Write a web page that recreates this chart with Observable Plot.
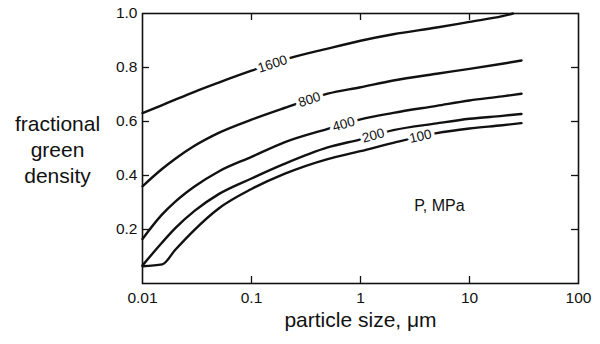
<!DOCTYPE html>
<html>
<head>
<meta charset="utf-8">
<script src="https://cdn.jsdelivr.net/npm/d3@7"></script>
<script src="https://cdn.jsdelivr.net/npm/@observablehq/plot@0.6"></script>
<style>
  html, body { margin: 0; padding: 0; background: #fff; }
  #chart svg { display: block; }
</style>
</head>
<body>
<div id="chart"></div>
<script>
// ---- data ----
const pressures = ["1600", "800", "400", "200", "100"];

const size1600 = [0.01, 0.015, 0.02, 0.03, 0.05, 0.1, 0.2, 0.5, 1, 2, 5, 10, 20, 25];
const dens1600 = [0.631, 0.66, 0.681, 0.71, 0.744, 0.788, 0.829, 0.87, 0.899, 0.923, 0.948, 0.969, 0.99, 1.0];

const size800 = [0.01, 0.015, 0.02, 0.03, 0.05, 0.1, 0.2, 0.5, 1, 2, 5, 10, 20, 30];
const dens800 = [0.36, 0.423, 0.462, 0.51, 0.558, 0.607, 0.65, 0.703, 0.727, 0.752, 0.777, 0.795, 0.814, 0.826];

const size400 = [0.01, 0.015, 0.02, 0.03, 0.05, 0.1, 0.2, 0.5, 1, 2, 5, 10, 20, 30];
const dens400 = [0.165, 0.254, 0.303, 0.359, 0.415, 0.469, 0.523, 0.573, 0.608, 0.632, 0.658, 0.678, 0.693, 0.703];

const size200 = [0.01, 0.015, 0.02, 0.03, 0.05, 0.1, 0.2, 0.5, 1, 2, 5, 10, 20, 30];
const dens200 = [0.067, 0.15, 0.205, 0.269, 0.331, 0.389, 0.443, 0.504, 0.534, 0.568, 0.593, 0.61, 0.621, 0.628];

const size100 = [0.01, 0.0152, 0.02, 0.03, 0.05, 0.1, 0.2, 0.5, 1, 2, 5, 10, 20, 30];
const dens100 = [0.064, 0.071, 0.125, 0.199, 0.278, 0.35, 0.406, 0.461, 0.49, 0.521, 0.557, 0.574, 0.586, 0.594];

// curve label anchors (on the curves)
const labelSize = [0.156, 0.34, 0.70, 1.31, 3.55];
const labelDens = [0.813, 0.681, 0.59, 0.548, 0.545];
const labelAngle = [-18, -18, -16, -15, -13];

const xTicks = [0.01, 0.1, 1, 10, 100];
const yTicks = [0.2, 0.4, 0.6, 0.8, 1.0];
const xInnerTicks = [0.1, 1, 10];
const yInnerTicks = [0.2, 0.4, 0.6, 0.8];

const xLabel = "particle size, μm";
const yLabel = "fractional\ngreen\ndensity";
const note = "P, MPa";

// ---- build table ----
const sizesBy = {"1600": size1600, "800": size800, "400": size400, "200": size200, "100": size100};
const densBy = {"1600": dens1600, "800": dens800, "400": dens400, "200": dens200, "100": dens100};
const rows = pressures.flatMap(p => sizesBy[p].map((s, i) => ({p, size: s, density: densBy[p][i]})));
const labels = pressures.map((p, i) => ({p, size: labelSize[i], density: labelDens[i], angle: labelAngle[i]}));

const W = 600, H = 344;
const mL = 142, mR = 22, mT = 13, mB = 61;
const plotW = W - mL - mR, plotH = H - mT - mB;
const ink = "#111";

const chart = Plot.plot({
  width: W,
  height: H,
  marginLeft: mL,
  marginRight: mR,
  marginTop: mT,
  marginBottom: mB,
  style: {fontFamily: "'Liberation Sans', Arial, Helvetica, sans-serif", color: ink, background: "#fff"},
  x: {type: "log", domain: [0.01, 100]},
  y: {domain: [0, 1]},
  marks: [
    Plot.line(rows, {x: "size", y: "density", z: "p", stroke: ink, strokeWidth: 2.4, curve: "monotone-x"}),
    Plot.text(labels, {x: "size", y: "density", text: "p", rotate: "angle", fontSize: 13.5, fill: ink,
      stroke: "white", strokeWidth: 7, paintOrder: "stroke"}),
    // inward ticks on all four sides
    Plot.tickY(yInnerTicks, {y: d => d, stroke: ink, strokeWidth: 1.3, insetRight: plotW - 7}),
    Plot.tickY(yInnerTicks, {y: d => d, stroke: ink, strokeWidth: 1.3, insetLeft: plotW - 7}),
    Plot.tickX(xInnerTicks, {x: d => d, stroke: ink, strokeWidth: 1.3, insetTop: plotH - 7}),
    Plot.tickX(xInnerTicks, {x: d => d, stroke: ink, strokeWidth: 1.3, insetBottom: plotH - 7}),
    Plot.frame({stroke: ink, strokeWidth: 1.6}),
    Plot.axisX(xTicks, {tickSize: 0, tickPadding: 8, fontSize: 15.5, tickFormat: d => String(d), label: null}),
    Plot.axisY(yTicks, {tickSize: 0, tickPadding: 5, fontSize: 15.5, tickFormat: d3.format(".1f"), label: null}),
    Plot.text([yLabel], {frameAnchor: "left", dx: -85, textAnchor: "middle", lineHeight: 1.25, fontSize: 21, fill: ink}),
    Plot.text([xLabel], {frameAnchor: "bottom", dy: 43, fontSize: 21, fill: ink}),
    Plot.text([note], {x: 5.3, y: 0.289, fontSize: 16, fill: ink})
  ]
});
document.getElementById("chart").append(chart);
</script>
</body>
</html>
